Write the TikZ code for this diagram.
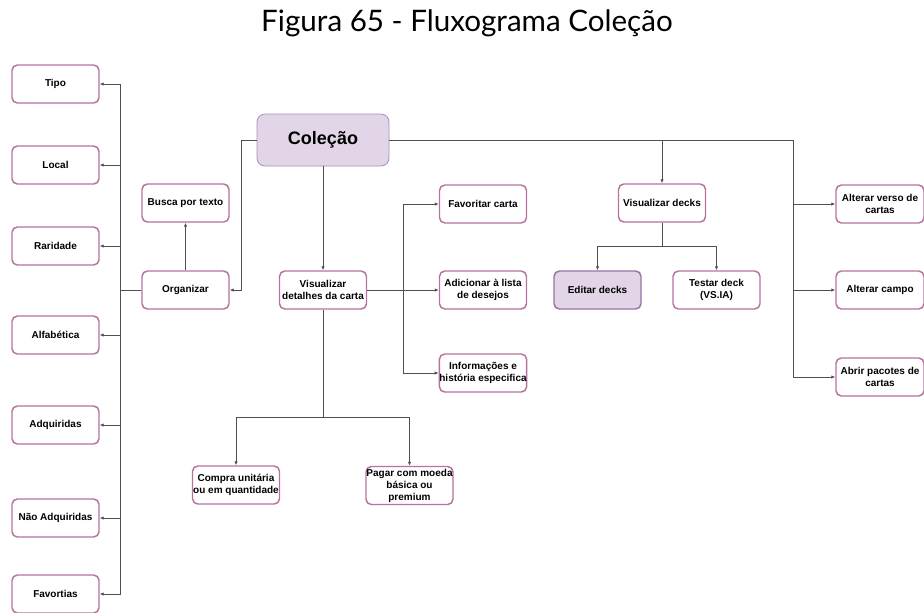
\documentclass[tikz,border=0pt]{standalone}
\usepackage{fontspec}
\setmainfont{Liberation Sans}
\newfontfamily\titlefont{Lato}
\usetikzlibrary{arrows.meta}
\definecolor{boxline}{HTML}{B5739D}
\definecolor{lav}{HTML}{E1D5E7}
\definecolor{lavline}{HTML}{9673A6}
\definecolor{wire}{HTML}{505050}
\begin{document}
\begin{tikzpicture}[x=0.75pt,y=-0.75pt,
  box/.style={draw=boxline,line width=1.1pt,fill=white,rounded corners=4pt,
    minimum width=65.25pt,minimum height=28.5pt,inner sep=0pt,align=center,
    font=\fontsize{7.5}{9}\selectfont\bfseries},
  hibox/.style={box,draw=lavline,fill=lav},
  wr/.style={draw=wire,line width=0.6pt},
  arr/.style={wr,-{Latex[length=3pt,width=2.6pt]}}]
\useasboundingbox (0,0) rectangle (924,612);
% title
\node (title) at (467,23) {\titlefont\fontsize{22.2}{25}\selectfont Figura 65 - Fluxograma Coleção};
% left column of filters
\node[box] (tipo) at (55.5,84) {Tipo};
\node[box] (local) at (55.5,165) {Local};
\node[box] (rar) at (55.5,246) {Raridade};
\node[box] (alf) at (55.5,335) {Alfabética};
\node[box] (adq) at (55.5,425) {Adquiridas};
\node[box] (nadq) at (55.5,518) {Não Adquiridas};
\node[box] (fav2) at (55.5,594) {Favortias};
% search and organize
\node[box] (busca) at (185.5,203) {Busca por texto};
\node[box] (org) at (185.5,290) {Organizar};
% root
\node[hibox,draw=lavline!80,line width=0.6pt,minimum width=99pt,minimum height=39pt,rounded corners=6pt,
  font=\fontsize{13.5}{16}\selectfont\bfseries] (col) at (323,140) {Coleção};
% card details branch
\node[box] (det) at (323,290) {Visualizar\\detalhes da carta};
\node[box] (favc) at (483,204) {Favoritar carta};
\node[box] (adic) at (483,290) {Adicionar à lista\\de desejos};
\node[box] (info) at (483,373) {Informações e\\história especifica};
\node[box] (compra) at (236,485) {Compra unitária\\ou em quantidade};
\node[box] (pagar) at (409.5,485.5) {Pagar com moeda\\básica ou\\premium};
% decks branch
\node[box] (vdeck) at (662,203) {Visualizar decks};
\node[hibox] (edit) at (597.5,290) {Editar decks};
\node[box] (testar) at (716.5,290) {Testar deck\\(VS.IA)};
% settings branch
\node[box,minimum width=66pt] (verso) at (880,204) {Alterar verso de\\cartas};
\node[box,minimum width=66pt] (campo) at (880,290) {Alterar campo};
\node[box,minimum width=66pt] (abrir) at (880,377) {Abrir pacotes de\\cartas};
% junction points
\coordinate (lrail) at (120,290);
\coordinate (mrail) at (403,290);
\coordinate (dsplit) at (323,417);
\coordinate (vsplit) at (662,246);
\coordinate (rrail) at (793,140);
% connectors: filters
\draw[wr] (org.west) -- (lrail);
\foreach \t in {tipo,local,rar,alf,adq,nadq,fav2}
  \draw[arr] (lrail) |- (\t.east);
\draw[arr] (org.north) -- (busca.south);
\draw[arr] (col.west) -- ++(-15,0) |- (org.east);
% connectors: details
\draw[arr] (col.south) -- (det.north);
\draw[arr] (det.east) -- (adic.west);
\draw[arr] (mrail) |- (favc.west);
\draw[arr] (mrail) |- (info.west);
\draw[wr] (det.south) -- (dsplit);
\draw[arr] (dsplit) -| (compra.north);
\draw[arr] (dsplit) -| (pagar.north);
% connectors: decks
\draw[arr] (col.east) -| (vdeck.north);
\draw[wr] (vdeck.south) -- (vsplit);
\draw[arr] (vsplit) -| (edit.north);
\draw[arr] (vsplit) -| (testar.north);
% connectors: settings
\draw[wr] (col.east) -- (rrail);
\draw[arr] (rrail) |- (verso.west);
\draw[arr] (rrail) |- (campo.west);
\draw[arr] (rrail) |- (abrir.west);
\end{tikzpicture}
\end{document}
